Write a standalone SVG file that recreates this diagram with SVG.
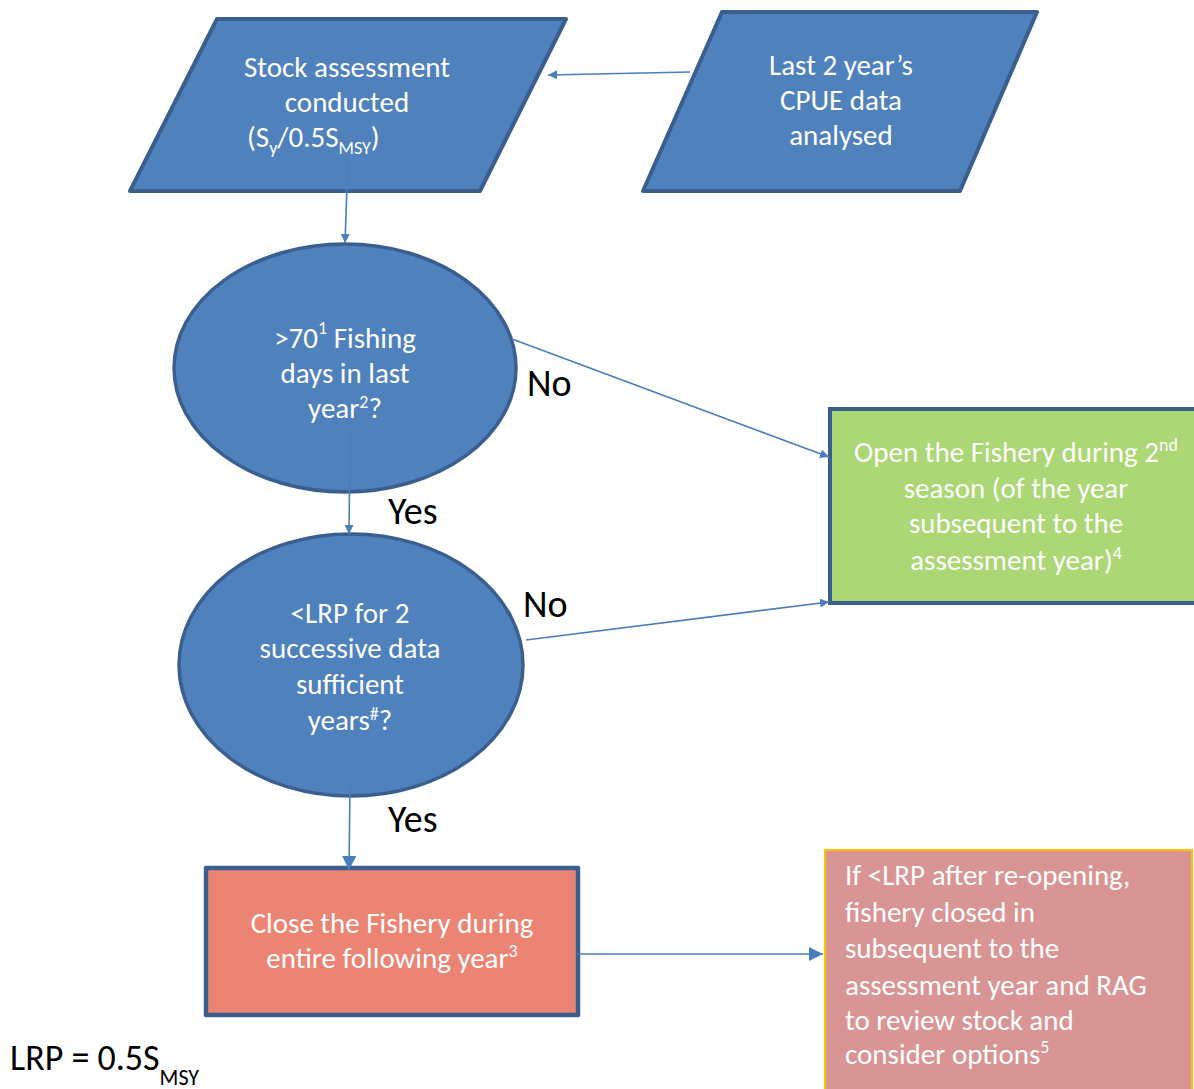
<svg xmlns="http://www.w3.org/2000/svg" width="1194" height="1089" viewBox="0 0 1194 1089">
<style>
.t{font-family:Carlito,Lato,"Liberation Sans",sans-serif;font-size:29px;fill:#ffffff;text-anchor:middle}
.tl{font-family:Carlito,Lato,"Liberation Sans",sans-serif;font-size:29px;fill:#ffffff}
.lab{font-family:Carlito,Lato,"Liberation Sans",sans-serif;font-size:38px;fill:#000000}
.blue{fill:#4f81bd;stroke:#3a5f8f;stroke-width:4;stroke-linejoin:round}
.con{stroke:#4a7ebb;stroke-width:1.6;fill:none}
</style>
<defs>
<marker id="ah" viewBox="0 0 10 10" refX="10" refY="5" markerWidth="9" markerHeight="9" markerUnits="userSpaceOnUse" orient="auto">
<path d="M0,0 L10,5 L0,10 z" fill="#4a7ebb"/>
</marker>
<marker id="ahb" viewBox="0 0 10 10" refX="10" refY="5" markerWidth="14" markerHeight="14" markerUnits="userSpaceOnUse" orient="auto">
<path d="M0,0 L10,5 L0,10 z" fill="#4a7ebb"/>
</marker>
</defs>
<rect width="1194" height="1089" fill="#ffffff"/>

<g id="stock">
<polygon class="blue" points="217,19 566,19 480,191 130,191"/>
<text class="t" x="347" y="77">Stock assessment</text>
<text class="t" x="347" y="112">conducted</text>
<text class="tl" x="247" y="147">(S<tspan font-size="18" dy="7">y</tspan><tspan dy="-7">/0.5S</tspan><tspan font-size="18" dy="7">MSY</tspan><tspan dy="-7">)</tspan></text>
</g>

<g id="cpue">
<polygon class="blue" points="722,12 1037,12 960,191 643,191"/>
<text class="t" x="841" y="75">Last 2 year’s</text>
<text class="t" x="841" y="110">CPUE data</text>
<text class="t" x="841" y="145">analysed</text>
</g>

<g id="fishingdays">
<ellipse class="blue" cx="345" cy="368" rx="171" ry="124" style="stroke-width:3.5"/>
<text class="t" x="345" y="348">&gt;70<tspan font-size="18" dy="-14">1</tspan><tspan dy="14"> Fishing</tspan></text>
<text class="t" x="345" y="383">days in last</text>
<text class="t" x="345" y="418">year<tspan font-size="18" dy="-10">2</tspan><tspan dy="10">?</tspan></text>
</g>

<g id="lrp">
<ellipse class="blue" cx="351" cy="665" rx="172" ry="131" style="stroke-width:3.5"/>
<text class="t" x="350" y="623">&lt;LRP for 2</text>
<text class="t" x="350" y="658">successive data</text>
<text class="t" x="350" y="694">sufficient</text>
<text class="t" x="350" y="730">years<tspan font-size="18" dy="-10">#</tspan><tspan dy="10">?</tspan></text>
</g>

<g id="open">
<rect x="830" y="409" width="370" height="194" fill="#abd774" stroke="#3a5f8f" stroke-width="4"/>
<text class="t" x="1016" y="462">Open the Fishery during 2<tspan font-size="18" dy="-11">nd</tspan></text>
<text class="t" x="1016" y="498">season (of the year</text>
<text class="t" x="1016" y="533">subsequent to the</text>
<text class="t" x="1016" y="570">assessment year)<tspan font-size="18" dy="-11">4</tspan></text>
</g>

<g id="close">
<rect x="206" y="868" width="372" height="147" fill="#ec8474" stroke="#3a5f8f" stroke-width="4.5" stroke-linejoin="round"/>
<text class="t" x="392" y="933">Close the Fishery during</text>
<text class="t" x="392" y="968">entire following year<tspan font-size="18" dy="-11">3</tspan></text>
</g>

<g id="review">
<rect x="825" y="850" width="367" height="245" fill="#d99594" stroke="#ffc000" stroke-width="2"/>
<text class="tl" x="845" y="885">If &lt;LRP after re-opening,</text>
<text class="tl" x="845" y="922">fishery closed in</text>
<text class="tl" x="845" y="958">subsequent to the</text>
<text class="tl" x="845" y="995">assessment year and RAG</text>
<text class="tl" x="845" y="1030">to review stock and</text>
<text class="tl" x="845" y="1064">consider options<tspan font-size="18" dy="-11">5</tspan></text>
</g>

<g id="connectors">
<line class="con" x1="690" y1="72" x2="548" y2="75" marker-end="url(#ah)"/>
<line class="con" x1="348" y1="158" x2="345" y2="243" marker-end="url(#ah)"/>
<line class="con" x1="350" y1="433" x2="349" y2="534" marker-end="url(#ah)"/>
<line class="con" x1="350" y1="783" x2="349" y2="870" marker-end="url(#ahb)"/>
<line class="con" x1="512" y1="339" x2="829" y2="457" marker-end="url(#ah)"/>
<line class="con" x1="526" y1="640" x2="829" y2="602" marker-end="url(#ah)"/>
<line class="con" x1="578" y1="954" x2="823" y2="954" marker-end="url(#ahb)"/>
</g>

<g id="labels">
<text class="lab" x="527" y="396">No</text>
<text class="lab" x="388" y="524">Yes</text>
<text class="lab" x="523" y="617">No</text>
<text class="lab" x="388" y="832">Yes</text>
<text x="10" y="1070" style="font-family:Carlito,Lato,'Liberation Sans',sans-serif;font-size:36px;fill:#000">LRP = 0.5S<tspan font-size="22" dy="15">MSY</tspan></text>
</g>
</svg>
